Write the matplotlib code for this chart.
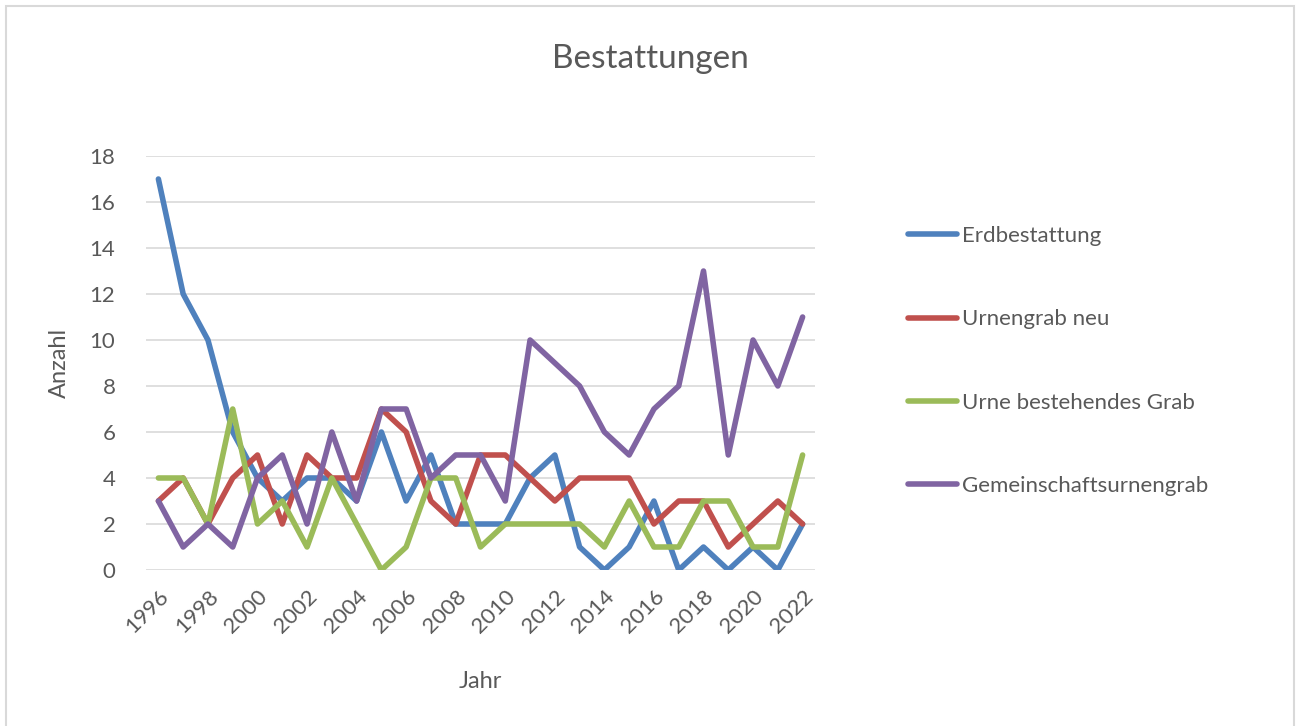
import matplotlib
matplotlib.use('Agg')
import matplotlib.pyplot as plt
from matplotlib.patches import Rectangle

plt.rcParams['font.family'] = ['Lato', 'DejaVu Sans']

years = list(range(1996, 2023))
erdbestattung = [17, 12, 10, 6, 4, 3, 4, 4, 3, 6, 3, 5, 2, 2, 2, 4, 5, 1, 0, 1, 3, 0, 1, 0, 1, 0, 2]
urnengrab_neu = [3, 4, 2, 4, 5, 2, 5, 4, 4, 7, 6, 3, 2, 5, 5, 4, 3, 4, 4, 4, 2, 3, 3, 1, 2, 3, 2]
urne_bestehend = [4, 4, 2, 7, 2, 3, 1, 4, 2, 0, 1, 4, 4, 1, 2, 2, 2, 2, 1, 3, 1, 1, 3, 3, 1, 1, 5]
gemeinschaft = [3, 1, 2, 1, 4, 5, 2, 6, 3, 7, 7, 4, 5, 5, 3, 10, 9, 8, 6, 5, 7, 8, 13, 5, 10, 8, 11]

series = [
    ('Erdbestattung', erdbestattung, '#4F81BD'),
    ('Urnengrab neu', urnengrab_neu, '#C0504D'),
    ('Urne bestehendes Grab', urne_bestehend, '#9BBB59'),
    ('Gemeinschaftsurnengrab', gemeinschaft, '#8064A2'),
]

text_color = '#595959'

fig = plt.figure(figsize=(13.01, 7.26), dpi=100)
ax = fig.add_axes([146 / 1301, 1 - 570 / 726, 669 / 1301, 414 / 726])

# light border around the whole chart
fig.patches.append(Rectangle((6 / 1301, -0.05), 1288 / 1301, 1.05 - 6 / 726,
                             transform=fig.transFigure, fill=False,
                             edgecolor='#D9D9D9', linewidth=1.5))

for name, values, color in series:
    ax.plot(years, values, color=color, linewidth=4.0, label=name,
            solid_joinstyle='round', solid_capstyle='round')

ax.set_xlim(1995.5, 2022.5)
ax.set_ylim(0, 18)
ax.set_yticks(range(0, 19, 2))
ax.set_xticks(years[::2])
ax.set_xticklabels([str(y) for y in years[::2]], rotation=45, ha='right',
                   rotation_mode='anchor')
ax.grid(axis='y', color='#D9D9D9', linewidth=1.2)
ax.set_axisbelow(True)
for s in ax.spines.values():
    s.set_visible(False)
ax.tick_params(axis='both', length=0, labelsize=16, colors=text_color)
ax.tick_params(axis='x', pad=12)
ax.tick_params(axis='y', pad=22)

fig.text(650 / 1301, 1 - 59 / 726, 'Bestattungen', fontsize=24, color=text_color,
         ha='center', va='center')
ax.set_xlabel('Jahr', fontsize=17, color=text_color, labelpad=24)
ax.set_ylabel('Anzahl', fontsize=17, color=text_color, labelpad=14)

ax.legend(loc='upper left', bbox_to_anchor=(888 / 1301, 1 - 206 / 726),
          bbox_transform=fig.transFigure, frameon=False, fontsize=16,
          labelcolor=text_color, handlelength=2.2, handletextpad=0.25,
          labelspacing=2.85)

fig.savefig('out.png', dpi=100, facecolor='white')
